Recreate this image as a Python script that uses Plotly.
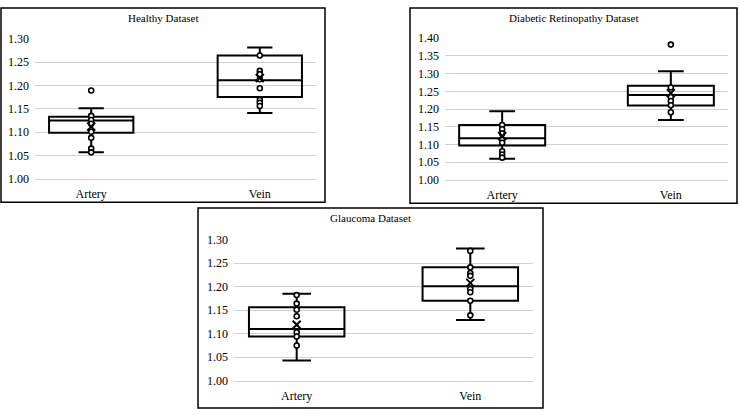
import plotly.graph_objects as go

categories = ["Artery", "Vein"]
titles = ["Healthy Dataset", "Diabetic Retinopathy Dataset", "Glaucoma Dataset"]

# box statistics per panel: [Artery, Vein]
healthy_q1 = [1.099, 1.175]
healthy_median = [1.125, 1.211]
healthy_q3 = [1.133, 1.264]
healthy_lower = [1.057, 1.141]
healthy_upper = [1.151, 1.281]
healthy_mean = [1.112, 1.216]
healthy_artery_points = [1.189, 1.135, 1.126, 1.118, 1.101, 1.088, 1.065, 1.057]
healthy_vein_points = [1.264, 1.231, 1.224, 1.213, 1.194, 1.169, 1.163, 1.156]

dr_q1 = [1.097, 1.210]
dr_median = [1.118, 1.240]
dr_q3 = [1.155, 1.266]
dr_lower = [1.060, 1.169]
dr_upper = [1.194, 1.307]
dr_mean = [1.124, 1.245]
dr_artery_points = [1.155, 1.143, 1.131, 1.114, 1.105, 1.081, 1.072, 1.063]
dr_vein_points = [1.382, 1.261, 1.234, 1.223, 1.211, 1.191]

gl_q1 = [1.094, 1.170]
gl_median = [1.110, 1.201]
gl_q3 = [1.156, 1.241]
gl_lower = [1.043, 1.129]
gl_upper = [1.185, 1.281]
gl_mean = [1.119, 1.208]
gl_artery_points = [1.182, 1.164, 1.151, 1.137, 1.103, 1.094, 1.075]
gl_vein_points = [1.276, 1.241, 1.229, 1.223, 1.195, 1.188, 1.170, 1.139]

y_ranges = [[1.00, 1.30], [1.00, 1.40], [1.00, 1.30]]

W, H = 740, 417
FONT = "Liberation Serif, Times New Roman, serif"

panels = [
    dict(q1=healthy_q1, med=healthy_median, q3=healthy_q3, lo=healthy_lower, up=healthy_upper,
         mean=healthy_mean, pa=healthy_artery_points, pv=healthy_vein_points,
         plot=(35, 316, 32.7, 178), frame=(1, 325, 1, 202), width=0.5),
    dict(q1=dr_q1, med=dr_median, q3=dr_q3, lo=dr_lower, up=dr_upper,
         mean=dr_mean, pa=dr_artery_points, pv=dr_vein_points,
         plot=(445, 728, 32.3, 179), frame=(410, 737, 1, 203), width=0.51),
    dict(q1=gl_q1, med=gl_median, q3=gl_q3, lo=gl_lower, up=gl_upper,
         mean=gl_mean, pa=gl_artery_points, pv=gl_vein_points,
         plot=(234, 533, 240.7, 386.7), frame=(198, 543, 208, 415), width=0.55),
]

fig = go.Figure()
layout = dict(
    width=W, height=H, margin=dict(l=0, r=0, t=0, b=0),
    paper_bgcolor="white", plot_bgcolor="white", showlegend=False,
    font=dict(family=FONT, size=12, color="black"),
    shapes=[], annotations=[],
)

for i, p in enumerate(panels):
    sfx = "" if i == 0 else str(i + 1)
    xa, ya = "x" + sfx, "y" + sfx
    fig.add_trace(go.Box(
        x=categories, q1=p["q1"], median=p["med"], q3=p["q3"],
        lowerfence=p["lo"], upperfence=p["up"],
        boxpoints=False, width=p["width"], whiskerwidth=0.3,
        fillcolor="rgba(0,0,0,0)", line=dict(color="black", width=2),
        xaxis=xa, yaxis=ya, hoverinfo="skip"))
    fig.add_trace(go.Scatter(
        x=[categories[0]] * len(p["pa"]) + [categories[1]] * len(p["pv"]),
        y=p["pa"] + p["pv"], mode="markers",
        marker=dict(symbol="circle", size=5, color="white",
                    line=dict(color="black", width=1.6)),
        xaxis=xa, yaxis=ya, hoverinfo="skip"))
    fig.add_trace(go.Scatter(
        x=categories, y=p["mean"], mode="markers",
        marker=dict(symbol="x-thin-open", size=8, color="black",
                    line=dict(color="black", width=2)),
        xaxis=xa, yaxis=ya, hoverinfo="skip"))

    x0, x1, y0, y1 = p["plot"]
    layout["xaxis" + sfx] = dict(
        domain=[x0 / W, x1 / W], anchor=ya, type="category",
        showgrid=False, showline=True, linecolor="#d0d0d0", linewidth=1,
        ticks="", ticklabelstandoff=4, tickfont=dict(family=FONT, size=12),
        fixedrange=True)
    layout["yaxis" + sfx] = dict(
        domain=[1 - y1 / H, 1 - y0 / H], anchor=xa, range=y_ranges[i],
        dtick=0.05, tickformat=".2f", showgrid=True, gridcolor="#d0d0d0",
        gridwidth=1, zeroline=False, showline=False, ticks="",
        ticklabelstandoff=5, tickfont=dict(family=FONT, size=12), fixedrange=True)

    fx0, fx1, fy0, fy1 = p["frame"]
    layout["shapes"].append(dict(
        type="rect", xref="paper", yref="paper",
        x0=fx0 / W, x1=fx1 / W, y0=1 - fy1 / H, y1=1 - fy0 / H,
        line=dict(color="black", width=1.5), fillcolor="rgba(0,0,0,0)"))
    layout["annotations"].append(dict(
        text=titles[i], xref="paper", yref="paper",
        x=(fx0 + fx1) / 2 / W, y=1 - (fy0 + 10) / H,
        xanchor="center", yanchor="middle", showarrow=False,
        font=dict(family=FONT, size=11, color="black")))

fig.update_layout(**layout)
fig.write_html("out.html")
